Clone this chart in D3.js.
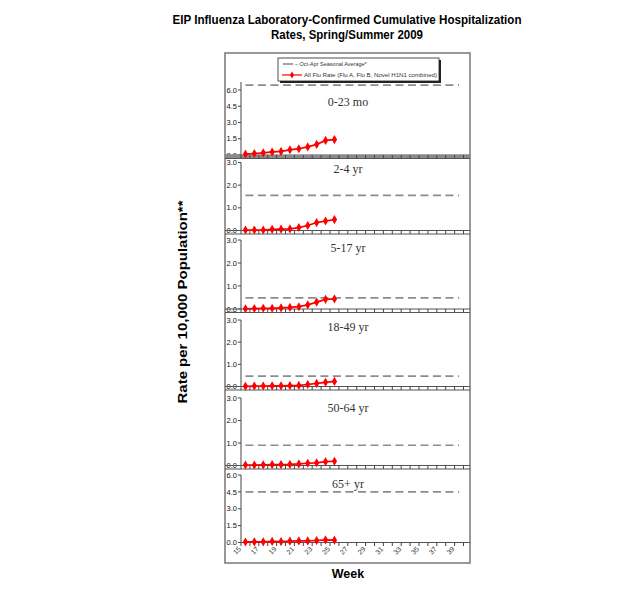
<!DOCTYPE html>
<html>
<head>
<meta charset="utf-8">
<script src="https://cdn.jsdelivr.net/npm/d3@7"></script>
<style>
  body { margin: 0; background: #fff; }
  text { font-family: Arial, "Liberation Sans", sans-serif; }
  text.age { font-family: "Liberation Serif", "DejaVu Serif", serif; }
</style>
</head>
<body>
<svg width="630" height="600"></svg>
<script>
// categories
var weeks = [15, 16, 17, 18, 19, 20, 21, 22, 23, 24, 25, 26, 27, 28, 29, 30, 31, 32, 33, 34, 35, 36, 37, 38, 39];
var dataWeeks = [15, 16, 17, 18, 19, 20, 21, 22, 23, 24, 25];
var ageGroups = ["0-23 mo", "2-4 yr", "5-17 yr", "18-49 yr", "50-64 yr", "65+ yr"];
var yTicks = [[0, 1.5, 3, 4.5, 6], [0, 1, 2, 3], [0, 1, 2, 3], [0, 1, 2, 3], [0, 1, 2, 3], [0, 1.5, 3, 4.5, 6]];
// Oct-Apr seasonal average per age group
var seasonalAvg = [6.45, 1.55, 0.48, 0.47, 0.9, 4.5];
// all flu rate (cumulative), weeks 15-25
var rate0to23mo = [0.08, 0.14, 0.2, 0.28, 0.33, 0.48, 0.58, 0.75, 0.98, 1.35, 1.42];
var rate2to4 = [0.02, 0.02, 0.02, 0.05, 0.06, 0.07, 0.13, 0.22, 0.35, 0.42, 0.48];
var rate5to17 = [0.01, 0.02, 0.03, 0.03, 0.05, 0.07, 0.1, 0.18, 0.3, 0.42, 0.44];
var rate18to49 = [0.01, 0.02, 0.02, 0.03, 0.03, 0.04, 0.05, 0.09, 0.14, 0.19, 0.23];
var rate50to64 = [0.02, 0.02, 0.03, 0.04, 0.04, 0.05, 0.07, 0.1, 0.12, 0.17, 0.19];
var rate65plus = [0.05, 0.06, 0.06, 0.1, 0.08, 0.12, 0.14, 0.14, 0.18, 0.23, 0.21];
var rates = [rate0to23mo, rate2to4, rate5to17, rate18to49, rate50to64, rate65plus];

// layout of the stacked panels (pixel positions)
var frame = { left: 225, right: 470, top: 53, bottom: 563 };
var plotLeft = 241, plotRight = 463.5;
var panels = [
    { zero: 155, tickTop: 90, axisTop: 82, labelY: 102 },
    { zero: 230.5, tickTop: 162.5, axisTop: 162.5, labelY: 169 },
    { zero: 309, tickTop: 240, axisTop: 240, labelY: 248 },
    { zero: 386.5, tickTop: 320, axisTop: 320, labelY: 327 },
    { zero: 465.5, tickTop: 398, axisTop: 398, labelY: 408 },
    { zero: 542.5, tickTop: 475, axisTop: 475, labelY: 484 }
];

var svg = d3.select("svg");

var x = d3.scaleBand().domain(weeks).range([plotLeft, plotRight]);
var cx = w => x(w) + x.bandwidth() / 2;

//标题
svg.append("text")
    .attr("x", 347).attr("y", 24)
    .attr("text-anchor", "middle")
    .attr("font-size", 13).attr("font-weight", "bold")
    .attr("textLength", 349).attr("lengthAdjust", "spacingAndGlyphs")
    .text("EIP Influenza Laboratory-Confirmed Cumulative Hospitalization");
svg.append("text")
    .attr("x", 347).attr("y", 39)
    .attr("text-anchor", "middle")
    .attr("font-size", 13).attr("font-weight", "bold")
    .attr("textLength", 152).attr("lengthAdjust", "spacingAndGlyphs")
    .text("Rates, Spring/Summer 2009");

svg.append("text")
    .attr("transform", "translate(187,302) rotate(-90)")
    .attr("text-anchor", "middle")
    .attr("font-size", 12.5).attr("font-weight", "bold")
    .attr("textLength", 203).attr("lengthAdjust", "spacingAndGlyphs")
    .text("Rate per 10,000 Population**");

svg.append("text")
    .attr("x", 348).attr("y", 578)
    .attr("text-anchor", "middle")
    .attr("font-size", 12.5).attr("font-weight", "bold")
    .text("Week");

//外框
svg.append("rect")
    .attr("x", frame.left).attr("y", frame.top)
    .attr("width", frame.right - frame.left)
    .attr("height", frame.bottom - frame.top)
    .attr("fill", "none").attr("stroke", "#777").attr("stroke-width", 1.5);

var line = d3.line().x(d => cx(d.week)).y(d => d.y);

panels.forEach((p, i) => {
    var tmax = yTicks[i][yTicks[i].length - 1];
    var y = d3.scaleLinear().domain([0, tmax]).range([p.zero, p.tickTop]);
    var g = svg.append("g");

    // seasonal average
    g.append("line")
        .attr("x1", cx(weeks[0])).attr("x2", cx(weeks[weeks.length - 1]))
        .attr("y1", y(seasonalAvg[i])).attr("y2", y(seasonalAvg[i]))
        .attr("stroke", "#8c8c8c").attr("stroke-width", 1.7)
        .attr("stroke-dasharray", "8,4.5");

    // y axis
    g.append("line")
        .attr("x1", plotLeft).attr("x2", plotLeft)
        .attr("y1", p.axisTop).attr("y2", p.zero)
        .attr("stroke", "#444").attr("stroke-width", 1);
    yTicks[i].forEach(t => {
        g.append("line")
            .attr("x1", plotLeft - 3).attr("x2", plotLeft)
            .attr("y1", y(t)).attr("y2", y(t))
            .attr("stroke", "#444");
        g.append("text")
            .attr("x", plotLeft - 4).attr("y", y(t))
            .attr("dy", "0.35em")
            .attr("text-anchor", "end")
            .attr("font-size", 7.5).attr("fill", "#111")
            .text(d3.format(".1f")(t));
    });

    // x axis / panel separator
    var last = i === panels.length - 1;
    g.append("line")
        .attr("x1", last ? plotLeft : frame.left).attr("x2", frame.right)
        .attr("y1", p.zero).attr("y2", p.zero)
        .attr("stroke", "#555").attr("stroke-width", 1);
    if (!last) {
        if (i === 0) {
            g.append("rect")
                .attr("x", frame.left).attr("y", p.zero)
                .attr("width", frame.right - frame.left).attr("height", 3.5)
                .attr("fill", "#8a8a8a");
        }
        g.append("line")
            .attr("x1", frame.left).attr("x2", frame.right)
            .attr("y1", p.zero + 3.5).attr("y2", p.zero + 3.5)
            .attr("stroke", "#555").attr("stroke-width", 1);
    }
    weeks.concat([null]).forEach(w => {
        var xx = w === null ? plotRight : x(w);
        g.append("line")
            .attr("x1", xx).attr("x2", xx)
            .attr("y1", p.zero).attr("y2", p.zero + 3.5)
            .attr("stroke", "#444");
    });

    // age group label
    g.append("text")
        .attr("class", "age")
        .attr("x", 348).attr("y", p.labelY)
        .attr("dy", "0.35em")
        .attr("text-anchor", "middle")
        .attr("font-size", 12).attr("fill", "#333")
        .text(ageGroups[i]);

    // flu rate
    var pts = dataWeeks.map((w, k) => ({ week: w, y: y(rates[i][k]) }));
    g.append("path")
        .attr("d", line(pts))
        .attr("fill", "none").attr("stroke", "#ff0000").attr("stroke-width", 1.7);
    g.selectAll("path.mark").data(pts).enter()
        .append("path")
        .attr("class", "mark")
        .attr("d", d3.symbol(d3.symbolDiamond, 24)())
        .attr("transform", d => `translate(${cx(d.week)},${d.y})`)
        .attr("fill", "#ff0000");

    // week labels on the bottom panel
    if (last) {
        weeks.filter(w => w % 2 === 1).forEach(w => {
            g.append("text")
                .attr("transform", `translate(${cx(w) - 4},${p.zero + 7}) rotate(-45)`)
                .attr("text-anchor", "end")
                .attr("font-size", 7).attr("fill", "#333")
                .text(w);
        });
    }
});

//图例
var lg = svg.append("g");
lg.append("rect")
    .attr("x", 280).attr("y", 60).attr("width", 161).attr("height", 23)
    .attr("fill", "#222");
lg.append("rect")
    .attr("x", 278).attr("y", 58).attr("width", 161).attr("height", 23)
    .attr("fill", "#fff").attr("stroke", "#222").attr("stroke-width", 0.8);
lg.append("line")
    .attr("x1", 283).attr("x2", 293).attr("y1", 64).attr("y2", 64)
    .attr("stroke", "#8c8c8c").attr("stroke-width", 1.6);
lg.append("text")
    .attr("x", 295).attr("y", 64).attr("dy", "0.35em")
    .attr("font-size", 5.5).attr("fill", "#333")
    .text("\u2013 Oct-Apr Seasonal Average*");
lg.append("line")
    .attr("x1", 282).attr("x2", 302).attr("y1", 75).attr("y2", 75)
    .attr("stroke", "#ff0000").attr("stroke-width", 1.2);
lg.append("path")
    .attr("d", d3.symbol(d3.symbolDiamond, 14)())
    .attr("transform", "translate(292,75)")
    .attr("fill", "#ff0000");
lg.append("text")
    .attr("x", 304).attr("y", 75).attr("dy", "0.35em")
    .attr("font-size", 5.5).attr("fill", "#333")
    .attr("textLength", 133).attr("lengthAdjust", "spacingAndGlyphs")
    .text("All Flu Rate (Flu A, Flu B, Novel H1N1 combined)");
</script>
</body>
</html>
